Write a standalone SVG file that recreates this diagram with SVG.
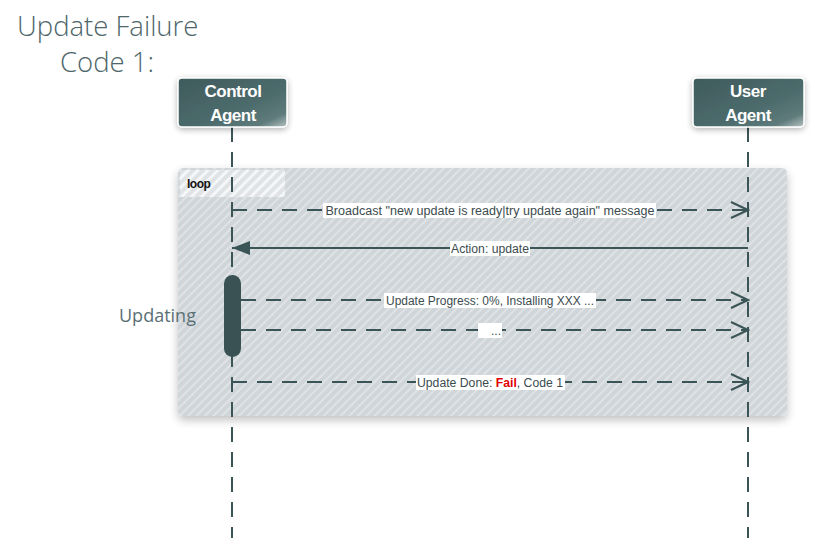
<svg xmlns="http://www.w3.org/2000/svg" width="828" height="538" viewBox="0 0 828 538">
<style>
.title{font-family:"Open Sans","Liberation Sans",sans-serif;font-weight:300;font-size:27.5px;fill:#4d6669}
.hdr{font-family:"Liberation Sans",Arial,sans-serif;font-weight:bold;font-size:17px;fill:#ffffff;text-anchor:middle;letter-spacing:-0.5px}
.life{stroke:#3b5557;stroke-width:2;stroke-dasharray:15 10;fill:none}
.msg{stroke:#3b5557;stroke-width:2;fill:none}
.dash{stroke-dasharray:15 10}
.lbl{font-family:"Liberation Sans",Arial,sans-serif;font-size:12px;fill:#3b4b4e;text-anchor:middle}
.lblbg{fill:#ffffff}
</style>
<defs>
<linearGradient id="hg" x1="0" y1="0" x2="1" y2="1">
<stop offset="0" stop-color="#3f5b5d"/>
<stop offset="0.6" stop-color="#4d6b6c"/>
<stop offset="0.85" stop-color="#5f7b7b"/>
<stop offset="1" stop-color="#b9c4c4"/>
</linearGradient>
<pattern id="hatch" width="6" height="6" patternUnits="userSpaceOnUse" patternTransform="rotate(45)">
<rect width="6" height="6" fill="#cfd5d8"/>
<rect width="2" height="6" fill="#dfe3e5"/>
</pattern>
<pattern id="hatch2" width="7" height="7" patternUnits="userSpaceOnUse" patternTransform="rotate(45)">
<rect width="7" height="7" fill="#dfe3e5"/>
<rect width="3" height="7" fill="#f4f6f7"/>
</pattern>
<filter id="sh" x="-10%" y="-20%" width="120%" height="140%">
<feGaussianBlur in="SourceAlpha" stdDeviation="5"/>
<feOffset dx="0" dy="4"/>
<feComponentTransfer><feFuncA type="linear" slope="0.25"/></feComponentTransfer>
<feMerge><feMergeNode/><feMergeNode in="SourceGraphic"/></feMerge>
</filter>
<filter id="glow" x="-20%" y="-30%" width="140%" height="160%">
<feGaussianBlur in="SourceAlpha" stdDeviation="3"/>
<feOffset dx="0" dy="2"/>
<feComponentTransfer><feFuncA type="linear" slope="0.3"/></feComponentTransfer>
<feMerge><feMergeNode/><feMergeNode in="SourceGraphic"/></feMerge>
</filter>
<marker id="open" markerWidth="20" markerHeight="18" refX="18" refY="9" orient="auto" markerUnits="userSpaceOnUse">
<path d="M1,1 L18,9 L1,17" fill="none" stroke="#3b5557" stroke-width="2"/>
</marker>
<marker id="filled" markerWidth="20" markerHeight="18" refX="18" refY="9" orient="auto" markerUnits="userSpaceOnUse">
<path d="M0,2 L18,9 L0,16 Z" fill="#3b5557"/>
</marker>
</defs>
<rect width="828" height="538" fill="#ffffff"/>

<g id="title">
<text class="title" x="17" y="36">Update Failure</text>
<text class="title" x="60" y="72">Code 1:</text>
</g>

<g id="loop">
<rect x="178" y="168" width="609" height="248" rx="5" fill="url(#hatch)" filter="url(#sh)"/>
<rect x="180" y="170" width="105" height="27" fill="url(#hatch2)"/>
<text x="187" y="188" font-family="Liberation Sans, Arial, sans-serif" font-weight="bold" font-size="12" fill="#111" letter-spacing="-0.5">loop</text>
</g>

<g id="lifelines">
<line class="life" x1="232" y1="127" x2="232" y2="538"/>
<line class="life" x1="748" y1="127" x2="748" y2="538"/>
</g>

<g id="control-agent">
<rect x="178" y="78" width="109" height="49" rx="4" fill="url(#hg)" stroke="#ffffff" stroke-width="1.5" filter="url(#glow)"/>
<text class="hdr" x="233" y="97">Control</text>
<text class="hdr" x="233" y="121">Agent</text>
</g>

<g id="user-agent">
<rect x="693" y="78" width="111" height="49" rx="4" fill="url(#hg)" stroke="#ffffff" stroke-width="1.5" filter="url(#glow)"/>
<text class="hdr" x="748" y="97">User</text>
<text class="hdr" x="748" y="121">Agent</text>
</g>

<g id="activation">
<rect x="224" y="275" width="17" height="82" rx="8.5" fill="#3a5254"/>
<text x="119" y="322" font-family="Open Sans, Liberation Sans, sans-serif" font-size="18" fill="#5a7075">Updating</text>
</g>

<g id="connectors">
<line class="msg dash" x1="232" y1="210" x2="748" y2="210" marker-end="url(#open)"/>
<line class="msg" x1="748" y1="248" x2="232" y2="248" marker-end="url(#filled)"/>
<line class="msg dash" x1="241" y1="300" x2="748" y2="300" marker-end="url(#open)"/>
<line class="msg dash" x1="241" y1="330" x2="748" y2="330" marker-end="url(#open)"/>
<line class="msg dash" x1="232" y1="382" x2="748" y2="382" marker-end="url(#open)"/>

<rect class="lblbg" x="323" y="203" width="333" height="15"/>
<text class="lbl" x="490" y="215" textLength="329" lengthAdjust="spacingAndGlyphs">Broadcast "new update is ready|try update again" message</text>

<rect class="lblbg" x="450" y="241" width="80" height="15"/>
<text class="lbl" x="490" y="253" textLength="78" lengthAdjust="spacingAndGlyphs">Action: update</text>

<rect class="lblbg" x="384" y="293" width="212" height="15"/>
<text class="lbl" x="490" y="305" textLength="208" lengthAdjust="spacingAndGlyphs">Update Progress: 0%, Installing XXX ...</text>

<rect class="lblbg" x="478" y="323" width="24" height="15"/>
<text class="lbl" x="496" y="335">...</text>

<rect class="lblbg" x="416" y="375" width="149" height="15"/>
<text class="lbl" x="490" y="387" textLength="146" lengthAdjust="spacingAndGlyphs">Update Done: <tspan fill="#e00000" font-weight="bold">Fail</tspan>, Code 1</text>
</g>
</svg>
